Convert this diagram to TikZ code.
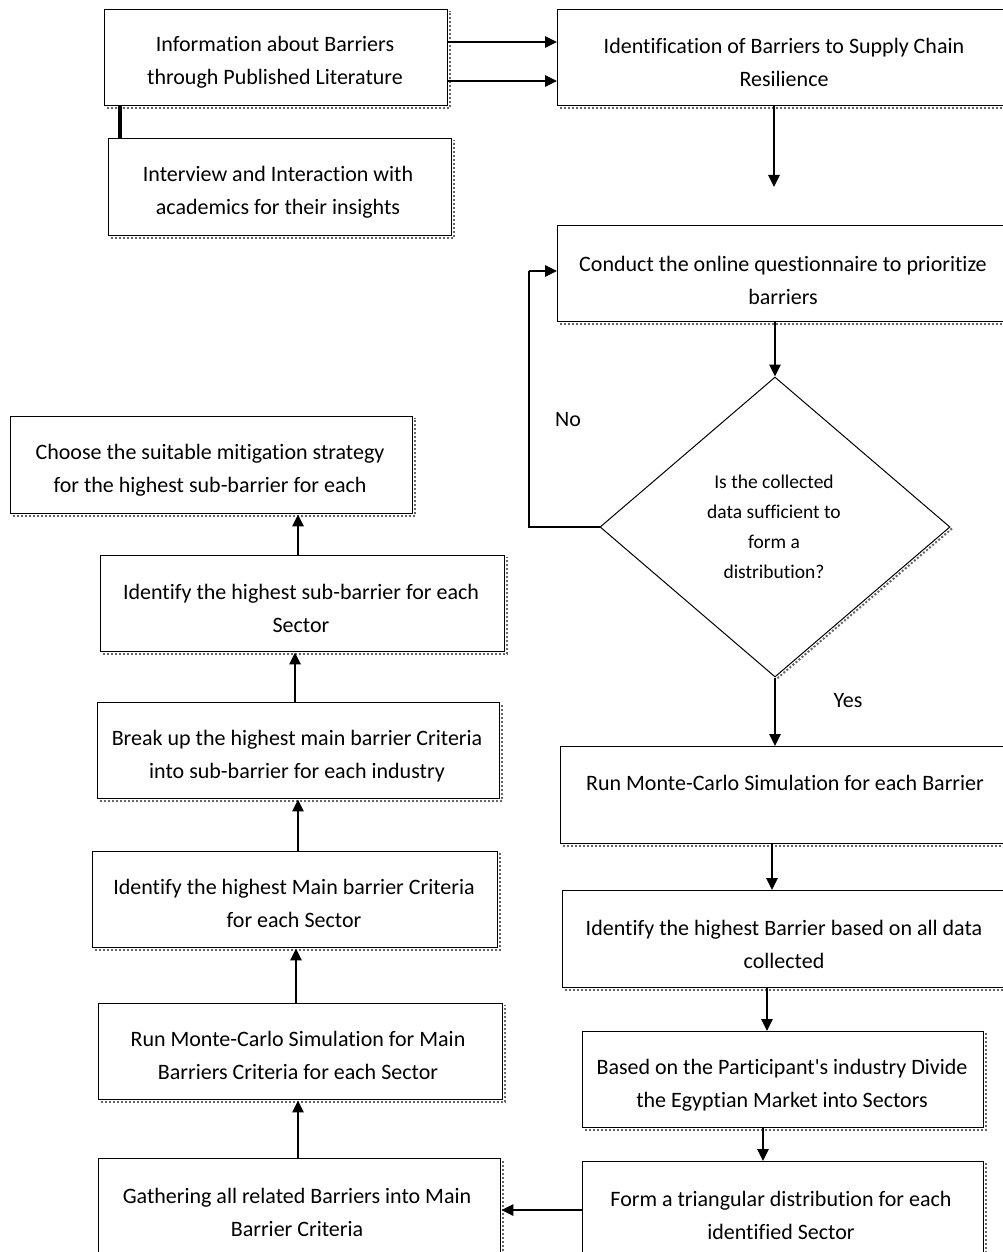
\documentclass[tikz,border=0pt]{standalone}
\usepackage{fontspec}
\setmainfont{Carlito}[RawFeature=-liga]
\usetikzlibrary{arrows.meta,shapes.geometric}
\newcommand\shadowof[1]{\draw[shd] ([shift={(3pt,-1.8pt)}]#1.south west) -- ([shift={(1.8pt,-1.8pt)}]#1.south east) -- ([shift={(1.8pt,-2pt)}]#1.north east);}
\begin{document}
\begin{tikzpicture}[x=1pt,y=-1pt,
 box/.style={draw,line width=1.3pt,anchor=north west,inner sep=0pt,fill=white},
 txt/.style={align=center,font=\fontsize{22}{33}\selectfont,inner sep=0pt},
 arr/.style={line width=2.6pt,-{Triangle[length=12pt,width=11pt]}},
 shd/.style={draw=black!60,line width=2pt,dotted}
]
\clip (0,0) rectangle (1003,1252);
\fill[white] (0,0) rectangle (1003,1252);
% boxes
\node[box,minimum width=343pt,minimum height=96pt] (b1) at (104,9) {};
\node[box,minimum width=343pt,minimum height=97pt] (b2) at (108,138) {};
\node[box,minimum width=460pt,minimum height=96pt] (b3) at (557,9) {};
\node[box,minimum width=460pt,minimum height=96pt] (b4) at (557,225) {};
\node[box,minimum width=460pt,minimum height=97pt] (b5) at (560,746) {};
\node[box,minimum width=460pt,minimum height=97pt] (b6) at (562,890) {};
\node[box,minimum width=401pt,minimum height=96pt] (b7) at (582,1031) {};
\node[box,minimum width=401pt,minimum height=120pt] (b8) at (582,1161) {};
\node[box,minimum width=402pt,minimum height=120pt] (b9) at (98,1158) {};
\node[box,minimum width=404pt,minimum height=96pt] (b10) at (98,1003) {};
\node[box,minimum width=405pt,minimum height=96pt] (b11) at (92,851) {};
\node[box,minimum width=402pt,minimum height=96pt] (b12) at (97,702) {};
\node[box,minimum width=404pt,minimum height=96pt] (b13) at (100,555) {};
\node[box,minimum width=402pt,minimum height=97pt] (b14) at (10,416) {};
\foreach \b in {b1,b2,b3,b4,b5,b6,b7,b8,b9,b10,b11,b12,b13,b14}{\shadowof{\b}}
% diamond
\node[draw,diamond,line width=1pt,minimum width=350pt,minimum height=300pt,inner sep=0pt,fill=white] (dia) at (775,527) {};
\draw[shd] ([shift={(1.5pt,-1.5pt)}]dia.east) -- ([shift={(1.5pt,-1.5pt)}]dia.south);
% texts
\node[txt] (t1) at (275,62) {Information about Barriers\\through Published Literature};
\node[txt] (t2) at (278,192) {Interview and Interaction with\\academics for their insights};
\node[txt] (t3) at (784,62) {Identification of Barriers to Supply Chain\\Resilience};
\node[txt] (t4) at (783,280) {Conduct the online questionnaire to prioritize\\barriers};
\node[txt] (t5) at (785,783) {Run Monte-Carlo Simulation for each Barrier};
\node[txt] (t6) at (784,944) {Identify the highest Barrier based on all data\\collected};
\node[txt] (t7) at (782,1085) {Based on the Participant\textquotesingle s industry Divide\\the Egyptian Market into Sectors};
\node[txt] (t8) at (781,1215) {Form a triangular distribution for each\\identified Sector};
\node[txt] (t9) at (297,1212) {Gathering all related Barriers into Main\\Barrier Criteria};
\node[txt] (t10) at (298,1055) {Run Monte-Carlo Simulation for Main\\Barriers Criteria for each Sector};
\node[txt] (t11) at (294,903) {Identify the highest Main barrier Criteria\\for each Sector};
\node[txt] (t12) at (297,756) {Break up the highest main barrier Criteria\\into sub-barrier for each industry};
\node[txt] (t13) at (301,608) {Identify the highest sub-barrier for each\\Sector};
\node[txt] (t14) at (210,470) {Choose the suitable mitigation strategy\\for the highest sub-barrier for each};
\node[align=center,font=\fontsize{19.5}{30}\selectfont,inner sep=0pt] (td) at (774,527) {Is the collected\\data sufficient to\\form a\\distribution?};
\node[txt] (lno) at (568,420) {No};
\node[txt] (lyes) at (848,701) {Yes};
% connectors
\draw[arr] (b1.east |- 0,42) -- (b3.west |- 0,42);
\draw[arr] (b1.east |- 0,81) -- (b3.west |- 0,81);
\draw[line width=3.5pt] (b1.south -| 120,0) -- (b2.north -| 120,0);
\coordinate (e3) at (774,187);
\draw[arr] (b3.south -| e3) -- (e3);
\draw[arr] (b4.south -| dia.north) -- (dia.north);
\coordinate (nc) at (529,271);
\draw[line width=1.4pt] (dia.west) -| (nc);
\draw[arr] (nc) -- (b4.west |- nc);
\draw[arr] (dia.south) -- (b5.north -| dia.south);
\draw[arr] (b5.south -| 772,0) -- (b6.north -| 772,0);
\draw[arr] (b6.south -| 767,0) -- (b7.north -| 767,0);
\draw[arr] (b7.south -| 763,0) -- (b8.north -| 763,0);
\draw[arr] (b8.west |- 0,1210) -- (b9.east |- 0,1210);
\draw[arr] (b9.north -| 298,0) -- (b10.south -| 298,0);
\draw[arr] (b10.north -| 296,0) -- (b11.south -| 296,0);
\draw[arr] (b11.north -| 298,0) -- (b12.south -| 298,0);
\draw[arr] (b12.north -| 295,0) -- (b13.south -| 295,0);
\draw[arr] (b13.north -| 298,0) -- (b14.south -| 298,0);
\end{tikzpicture}
\end{document}
